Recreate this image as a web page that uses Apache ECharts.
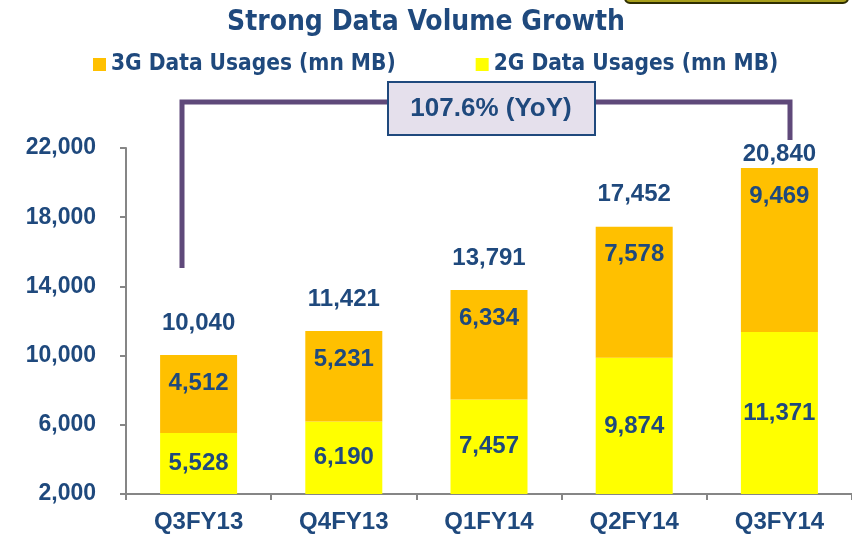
<!DOCTYPE html>
<html>
<head>
<meta charset="utf-8">
<script src="https://cdn.jsdelivr.net/npm/echarts@6/dist/echarts.min.js"></script>
<style>
  html, body { margin: 0; padding: 0; background: #fff; }
  #chart { width: 852px; height: 542px; }
</style>
</head>
<body>
<div id="chart"></div>
<script>
// values
const quarters = ['Q3FY13', 'Q4FY13', 'Q1FY14', 'Q2FY14', 'Q3FY14']
const usage2G = [5528, 6190, 7457, 9874, 11371]
const usage3G = [4512, 5231, 6334, 7578, 9469]
const totals = [10040, 11421, 13791, 17452, 20840]
const yTicks = [2000, 6000, 10000, 14000, 18000, 22000]

const navy = '#1F497D'
const narrow = "'Liberation Sans Narrow', 'DejaVu Sans Condensed', sans-serif"
const plain = "'Liberation Sans', Arial, sans-serif"
const fmt = (v) => Number(v).toLocaleString('en-US')

const chart = echarts.init(document.getElementById('chart'))

const option = {
  animation: false,
  title: {
    text: 'Strong Data Volume Growth',
    left: 'center',
    top: 4,
    textStyle: { fontFamily: narrow, fontSize: 28, fontWeight: 'bold', color: navy }
  },
  legend: {
    data: ['3G Data Usages (mn MB)', '2G Data Usages (mn MB)'],
    left: 88,
    top: 48,
    itemWidth: 13,
    itemHeight: 13,
    itemGap: 80,
    icon: 'rect',
    textStyle: { fontFamily: narrow, fontSize: 22.5, fontWeight: 'bold', color: navy }
  },
  grid: { left: 126, right: 0, top: 148, bottom: 48 },
  xAxis: {
    type: 'category',
    data: quarters,
    axisLine: { lineStyle: { color: '#868686', width: 2 } },
    axisTick: { show: true, length: 6, lineStyle: { color: '#868686', width: 2 } },
    axisLabel: { margin: 16, fontFamily: plain, fontSize: 24, fontWeight: 'bold', color: navy }
  },
  yAxis: {
    type: 'value',
    min: 2000,
    max: 22000,
    splitLine: { show: false },
    axisLine: { show: true, lineStyle: { color: '#868686', width: 2 } },
    axisTick: { show: true, length: 6, customValues: yTicks, lineStyle: { color: '#868686', width: 2 } },
    axisLabel: {
      customValues: yTicks,
      margin: 30,
      formatter: fmt,
      fontFamily: plain, fontSize: 23, fontWeight: 'bold', color: navy
    }
  },
  series: [
    {
      name: '2G Data Usages (mn MB)',
      type: 'bar',
      stack: 'total',
      barWidth: 77,
      data: usage2G,
      itemStyle: { color: '#FFFF00' },
      label: {
        show: true, position: 'inside', formatter: (p) => fmt(p.value),
        fontFamily: plain, fontSize: 24, fontWeight: 'bold', color: navy
      }
    },
    {
      name: '3G Data Usages (mn MB)',
      type: 'bar',
      stack: 'total',
      barWidth: 77,
      data: usage3G,
      itemStyle: { color: '#FFC000' },
      label: {
        show: true, position: 'insideTop', distance: 16, formatter: (p) => fmt(p.value),
        fontFamily: plain, fontSize: 24, fontWeight: 'bold', color: navy
      }
    },
    {
      // invisible cap on each stack, just carries the total label
      name: 'total',
      type: 'bar',
      stack: 'total',
      barWidth: 77,
      data: totals.map((t, i) => ({
        value: 0,
        label: i === totals.length - 1 ? { distance: 2 } : undefined
      })),
      itemStyle: { color: 'transparent' },
      label: {
        show: true, position: 'top', distance: 20,
        formatter: (p) => fmt(totals[p.dataIndex]),
        fontFamily: plain, fontSize: 24, fontWeight: 'bold', color: navy
      }
    }
  ],
  graphic: [
    {
      type: 'rect',
      shape: { x: 625, y: -20, width: 223, height: 23, r: 5 },
      style: { fill: '#A89F1C', stroke: '#2E2E00', lineWidth: 2 }
    },
    {
      type: 'polyline',
      shape: { points: [[182, 268], [182, 102], [790, 102], [790, 140]] },
      style: { stroke: '#5F497A', lineWidth: 5, fill: null }
    },
    {
      type: 'rect',
      shape: { x: 388, y: 82, width: 207, height: 53 },
      style: { fill: '#E5E0EC', stroke: navy, lineWidth: 2 }
    },
    {
      type: 'text',
      x: 491,
      y: 109,
      style: {
        text: '107.6% (YoY)',
        align: 'center',
        verticalAlign: 'middle',
        font: 'bold 26px ' + plain,
        fill: navy
      }
    }
  ]
}

chart.setOption(option)
</script>
</body>
</html>
